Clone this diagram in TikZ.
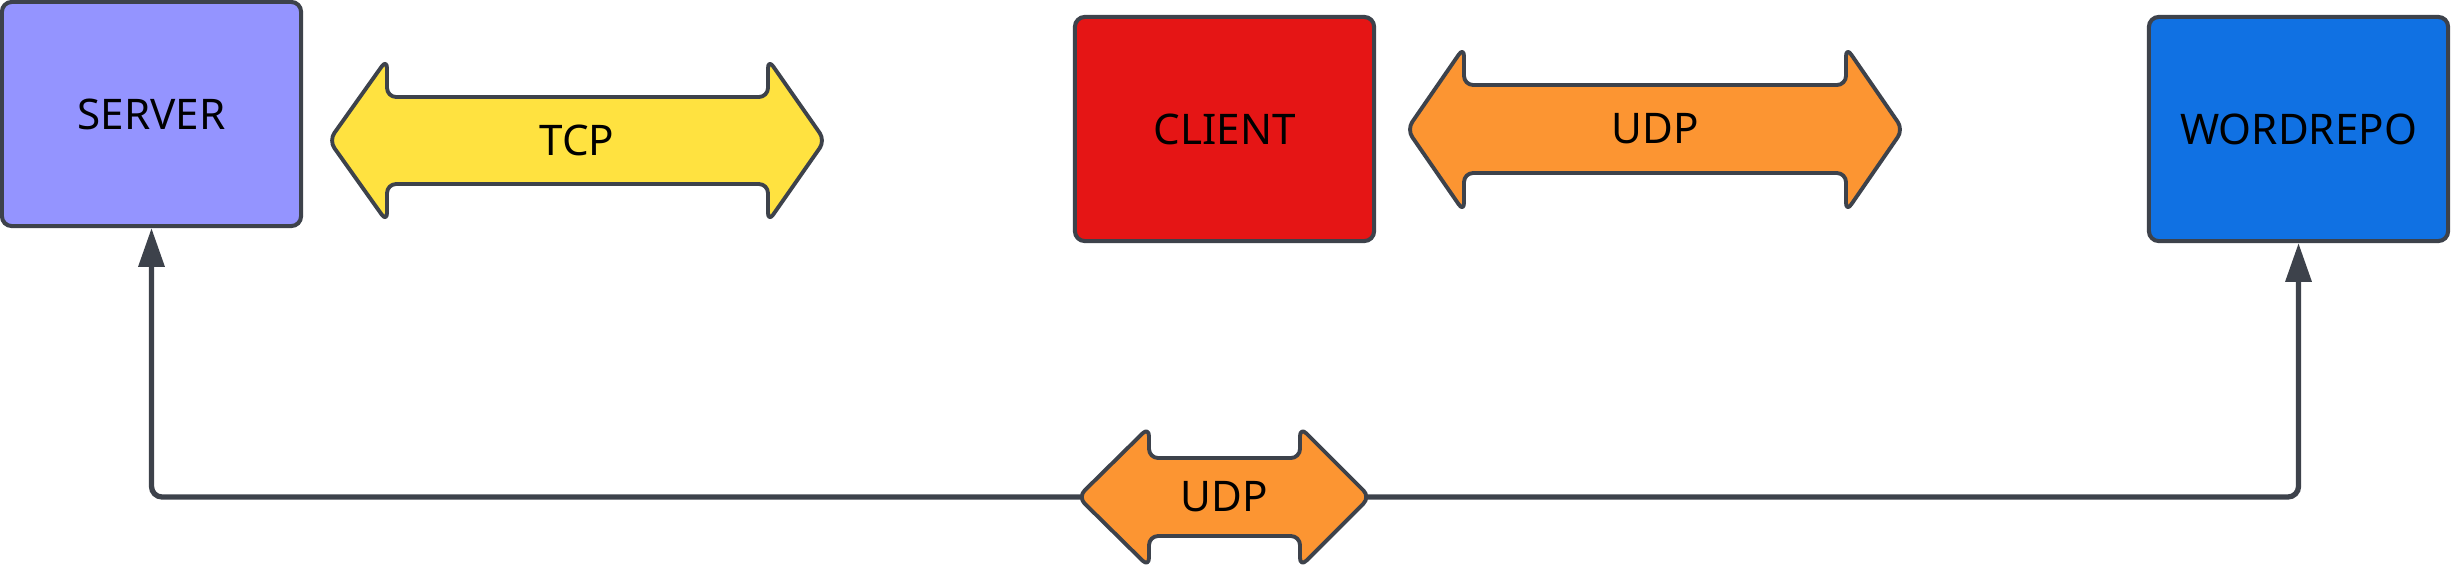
\documentclass[tikz,border=0pt]{standalone}
\usepackage{fontspec}
\setmainfont{Noto Sans}
\usetikzlibrary{arrows.meta}
\definecolor{edge}{HTML}{3D424B}
\definecolor{serverfill}{HTML}{9494FF}
\definecolor{clientfill}{HTML}{E51515}
\definecolor{repofill}{HTML}{1071E3}
\definecolor{tcpfill}{HTML}{FFE240}
\definecolor{udpfill}{HTML}{FC9532}
\tikzset{
  box/.style={draw=edge, line width=1.15pt, rounded corners=2.8pt,
    minimum width=2.99cm, minimum height=2.24cm, inner sep=0pt,
    font=\fontsize{12}{14}\selectfont, text=black},
  dblarrow/.style={draw=edge, line width=1.1pt, rounded corners=2.6pt, line join=round},
  lbl/.style={inner sep=0pt, font=\fontsize{12}{14}\selectfont, text=black},
  conn/.style={draw=edge, line width=1.5pt, rounded corners=3pt,
    -{Triangle[length=11pt,width=7.2pt]}},
}
\begin{document}
\begin{tikzpicture}[x=0.01cm, y=-0.01cm]
\useasboundingbox (0,0) rectangle (2451,572);

% boxes
\node[box, fill=serverfill] (server) at (151.5,114) {SERVER};
\node[box, fill=clientfill] (client) at (1224.5,129) {CLIENT};
\node[box, fill=repofill] (repo) at (2298.5,129) {WORDREPO};

% bottom connectors (start just inside the arrow tips)
\coordinate (u3L) at (1078,497);
\coordinate (u3R) at (1370,497);
\coordinate (c3L) at (1092,497);
\coordinate (c3R) at (1356,497);
\draw[conn] (c3L) -| (server.south);
\draw[conn] (c3R) -| (repo.south);

% TCP double arrow
\draw[dblarrow, fill=tcpfill]
  (329,140.5) -- (387,59) -- (387,97) -- (768,97) -- (768,59) -- (825,140.5)
  -- (768,222) -- (768,184) -- (387,184) -- (387,222) -- cycle;
\node[lbl] (tcp) at (577,140.5) {TCP};

% UDP double arrow (client - repo)
\draw[dblarrow, fill=udpfill]
  (1407,129.5) -- (1464,47) -- (1464,85) -- (1846,85) -- (1846,47) -- (1903,129.5)
  -- (1846,212) -- (1846,173) -- (1464,173) -- (1464,212) -- cycle;
\node[lbl] (udp1) at (1655,129) {UDP};

% UDP double arrow (bottom)
\draw[dblarrow, fill=udpfill]
  (u3L) -- (1149,427) -- (1149,458) -- (1300,458) -- (1300,427) -- (u3R)
  -- (1300,567) -- (1300,536) -- (1149,536) -- (1149,567) -- cycle;
\node[lbl] (udp2) at (1224,497) {UDP};
\end{tikzpicture}
\end{document}
